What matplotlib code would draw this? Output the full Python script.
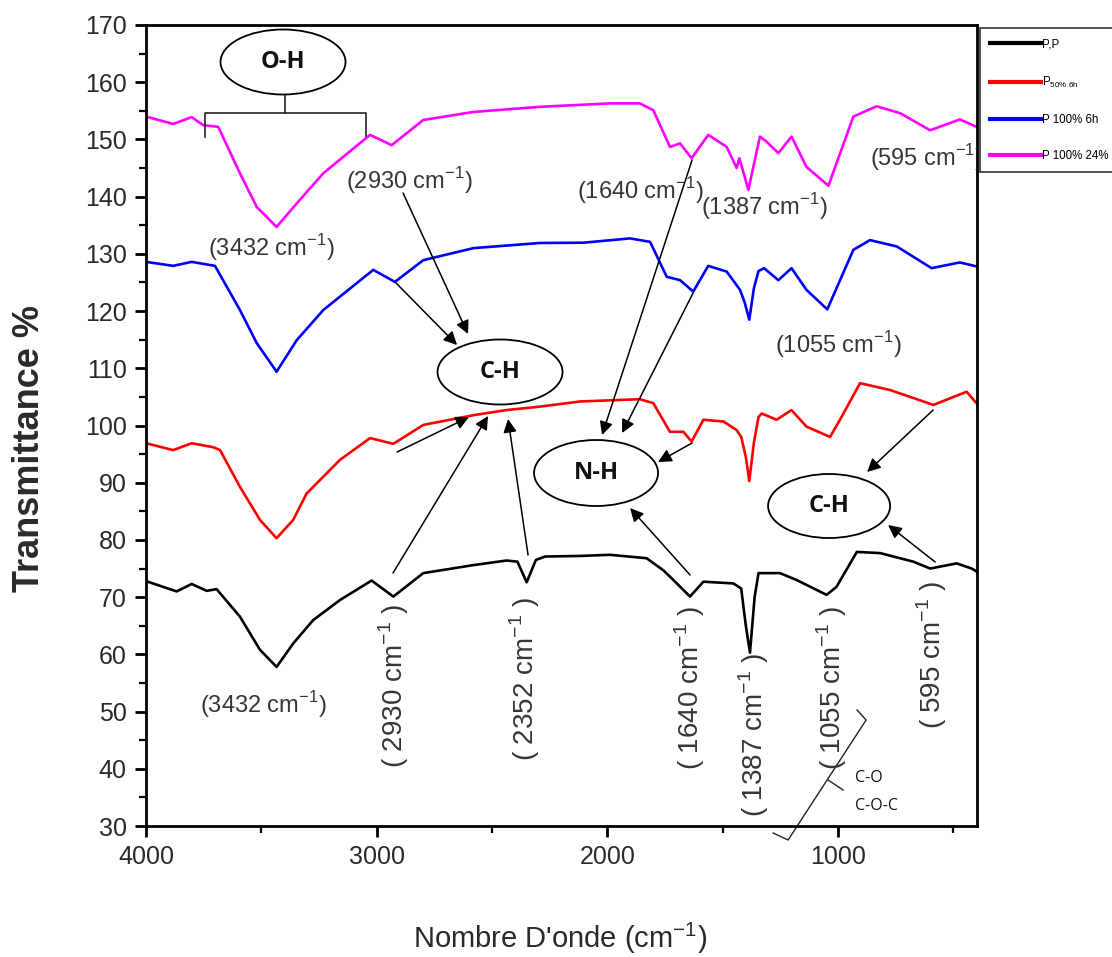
import matplotlib
matplotlib.use("Agg")
import matplotlib.pyplot as plt
from matplotlib.patches import Ellipse
from matplotlib.lines import Line2D
import numpy as np

# ---------------- data ----------------
wn_pp = [4000, 3867, 3802, 3737, 3694, 3593, 3506, 3434, 3362, 3275, 3159, 3022, 2928,
         2798, 2581, 2437, 2390, 2350, 2310, 2270, 2119, 1989, 1830, 1758, 1714, 1642,
         1584, 1454, 1420, 1400, 1382, 1362, 1345, 1331, 1252, 1180, 1050, 1007, 919,
         818, 674, 601, 486, 421, 400]
t_pp = [72.8, 71.0, 72.3, 71.1, 71.4, 66.6, 60.8, 57.8, 61.9, 66.0, 69.5, 72.9, 70.1,
        74.2, 75.6, 76.4, 76.2, 72.6, 76.5, 77.1, 77.2, 77.4, 76.8, 74.7, 73.0, 70.1,
        72.7, 72.4, 71.5, 65.0, 60.3, 70.0, 74.2, 74.2, 74.2, 73.0, 70.4, 71.8, 77.9,
        77.7, 76.2, 75.0, 75.9, 75.0, 74.5]

wn_p50 = [4000, 3882, 3802, 3708, 3679, 3593, 3506, 3434, 3362, 3304, 3159, 3029, 2928,
          2798, 2581, 2437, 2292, 2119, 1859, 1801, 1729, 1671, 1635, 1584, 1497, 1440,
          1420, 1400, 1385, 1365, 1345, 1331, 1267, 1202, 1137, 1035, 992, 905, 775,
          587, 443, 400]
t_p50 = [96.9, 95.7, 96.9, 96.2, 95.7, 89.3, 83.5, 80.3, 83.5, 88.1, 94.0, 97.8, 96.8,
         100.1, 101.8, 102.7, 103.3, 104.2, 104.6, 103.9, 98.9, 98.9, 97.2, 101.0, 100.7, 99.2,
         98.0, 94.5, 90.3, 97.0, 101.5, 102.1, 101.0, 102.7, 99.8, 98.0, 101.0, 107.4, 106.2,
         103.6, 105.9, 103.9]

wn_p100_6 = [4000, 3882, 3802, 3701, 3593, 3520, 3434, 3347, 3231, 3015, 2921, 2798, 2581,
             2292, 2104, 1902, 1815, 1743, 1685, 1628, 1563, 1483, 1425, 1405, 1385, 1365,
             1345, 1321, 1259, 1202, 1137, 1047, 934, 862, 746, 595, 472, 400]
t_p100_6 = [128.6, 127.9, 128.6, 127.9, 120.2, 114.4, 109.4, 114.9, 120.2, 127.2, 125.1, 128.9, 131.0,
            131.9, 131.95, 132.7, 132.1, 126.0, 125.4, 123.4, 127.9, 126.9, 123.7, 121.5, 118.5, 124.0,
            127.0, 127.5, 125.4, 127.5, 123.7, 120.3, 130.7, 132.4, 131.3, 127.5, 128.5, 127.8]

wn_p100_24 = [4000, 3882, 3802, 3752, 3687, 3593, 3520, 3434, 3347, 3231, 3029, 2935, 2798,
              2581, 2292, 1989, 1859, 1801, 1729, 1685, 1635, 1563, 1483, 1440, 1428, 1389,
              1339, 1310, 1259, 1202, 1137, 1042, 934, 833, 732, 601, 472, 400]
t_p100_24 = [154.0, 152.7, 153.9, 152.5, 152.2, 144.1, 138.2, 134.7, 138.8, 144.1, 150.8, 149.0, 153.4,
             154.8, 155.7, 156.3, 156.3, 155.1, 148.7, 149.3, 146.7, 150.8, 148.7, 145.0, 146.7, 141.2,
             150.5, 149.6, 147.6, 150.5, 145.2, 141.9, 154.0, 155.8, 154.6, 151.6, 153.5, 152.2]

labels = ["P,P", r"P$_{\mathregular{50\%\ 6h}}$", "P 100% 6h", "P 100% 24%"]
colors = ["black", "#ff0000", "#0000ff", "#ff00ff"]

x_ticks = [4000, 3000, 2000, 1000]
y_ticks = list(range(30, 171, 10))

REG = ["Liberation Sans", "DejaVu Sans"]
plt.rcParams["font.family"] = REG
plt.rcParams["mathtext.fontset"] = "custom"
plt.rcParams["mathtext.rm"] = "Liberation Sans"

# ---------------- figure ----------------
W, H = 1112, 957
fig = plt.figure(figsize=(W / 100, H / 100), dpi=100)
L, R, T, B = 146, 977, 25, 826
ax = fig.add_axes([L / W, 1 - B / H, (R - L) / W, (B - T) / H])

series = [(wn_pp, t_pp), (wn_p50, t_p50), (wn_p100_6, t_p100_6), (wn_p100_24, t_p100_24)]
handles = []
for (x, y), c, lab in zip(series, colors, labels):
    h, = ax.plot(x, y, color=c, lw=1.9, label=lab, solid_joinstyle="round")
    handles.append(h)

ax.set_xlim(4000, 398)
ax.set_ylim(30, 170)
ax.set_xticks(x_ticks)
ax.set_xticks([3500, 2500, 1500, 500], minor=True)
ax.set_yticks(y_ticks)
ax.set_yticks(np.arange(35, 170, 10), minor=True)
ax.tick_params(which="major", direction="out", length=8, width=2, labelsize=18,
               labelcolor="#2a2a2a", pad=6)
ax.tick_params(which="minor", direction="out", length=5, width=1.6)
for s in ax.spines.values():
    s.set_linewidth(2)

fig.text(30 / W, 1 - 448 / H, "Transmittance %", rotation=90, ha="center", va="center",
         fontsize=26, fontweight="bold", color="#2a2a2a")
fig.text(560 / W, 1 - 938 / H, r"Nombre D'onde (cm$^{\mathregular{-1}}$)", ha="center",
         va="center", fontsize=21, color="#2a2a2a")

leg = fig.legend(handles=handles, labels=labels, loc="upper left",
                 bbox_to_anchor=(980 / W, 1 - 28 / H), bbox_transform=fig.transFigure,
                 borderaxespad=0, fontsize=8.3, handlelength=4.4, handletextpad=0.1,
                 labelspacing=2.1, borderpad=0.9, fancybox=False, frameon=True)
leg.get_frame().set_edgecolor("black")
leg.get_frame().set_linewidth(1.2)
for lh in leg.get_lines():
    lh.set_linewidth(3)

# ---------------- annotations (pixel helper) ----------------
def d(px, py):
    return (4000 - (px - 146) / 0.23067, 170 - (py - 25) / 5.7214)

TXT = "#3a3530"
cm = r" cm$^{\mathregular{-1}}$"

def htext(px, py, s, ha="center", clip=False):
    ax.text(*d(px, py), s, ha=ha, va="center", fontsize=17, color=TXT, clip_on=clip)

htext(271, 248, "(3432" + cm + ")")
htext(409, 181, "(2930" + cm + ")")
htext(640, 191, "(1640" + cm + ")")
htext(764, 207, "(1387" + cm + ")")
htext(870, 158, "(595" + cm + ")", ha="left", clip=True)
htext(838, 345, "(1055" + cm + ")")
htext(263, 705, "(3432" + cm + ")")

def vtext(px, py, s):
    ax.text(*d(px, py), s, ha="center", va="center", rotation=90, fontsize=20,
            color=TXT, clip_on=False)

vtext(394, 686, "( 2930" + cm + " )")
vtext(525, 679, "( 2352" + cm + " )")
vtext(690, 688, "( 1640" + cm + " )")
vtext(754, 735, "( 1387" + cm + " )")
vtext(832, 688, "( 1055" + cm + " )")
vtext(932, 655, "( 595" + cm + " )")

def ell(cx, cy, w, h, s):
    e = Ellipse(d(cx, cy), width=w / 0.23067, height=h / 5.7214, fill=False,
                lw=1.3, edgecolor="black", clip_on=False, zorder=5)
    ax.add_patch(e)
    ax.text(*d(cx, cy), s, ha="center", va="center", fontsize=17, fontweight="bold",
            family=["Open Sans", "DejaVu Sans"], color="#111111", zorder=6)

ell(283, 62, 125, 65, "O-H")
ell(500, 372, 125, 65, "C-H")
ell(596, 473, 124, 66, "N-H")
ell(829, 506, 122, 64, "C-H")

def poly(pts, lw=1.2):
    xs, ys = zip(*[d(*p) for p in pts])
    ax.add_line(Line2D(xs, ys, color="#222222", lw=lw, clip_on=False))

poly([(205, 137), (205, 113), (366, 113), (366, 136)])
poly([(285, 113), (285, 95)])
poly([(857, 710), (866, 720), (788, 840), (773, 833)], lw=1.0)
poly([(828, 780), (843, 790)], lw=1.0)

ax.text(*d(855, 778), "C-O", ha="left", va="center", fontsize=11.5,
        family=["Open Sans", "DejaVu Sans"], color="#111111")
ax.text(*d(855, 806), "C-O-C", ha="left", va="center", fontsize=11.5,
        family=["Open Sans", "DejaVu Sans"], color="#111111")

def arrow(tail, tip):
    ax.annotate("", xy=d(*tip), xytext=d(*tail), annotation_clip=False,
                arrowprops=dict(arrowstyle="-|>", color="black", lw=1.1,
                                mutation_scale=20, shrinkA=0, shrinkB=0))

arrow((396, 283), (457, 345))
arrow((403, 193), (468, 334))
arrow((397, 452), (469, 417))
arrow((393, 573), (488, 416))
arrow((528, 555), (508, 419))
arrow((692, 160), (602, 435))
arrow((693, 293), (622, 433))
arrow((692, 443), (658, 462))
arrow((690, 575), (630, 508))
arrow((933, 410), (867, 472))
arrow((935, 562), (888, 525))

fig.savefig("out.png", dpi=100)
